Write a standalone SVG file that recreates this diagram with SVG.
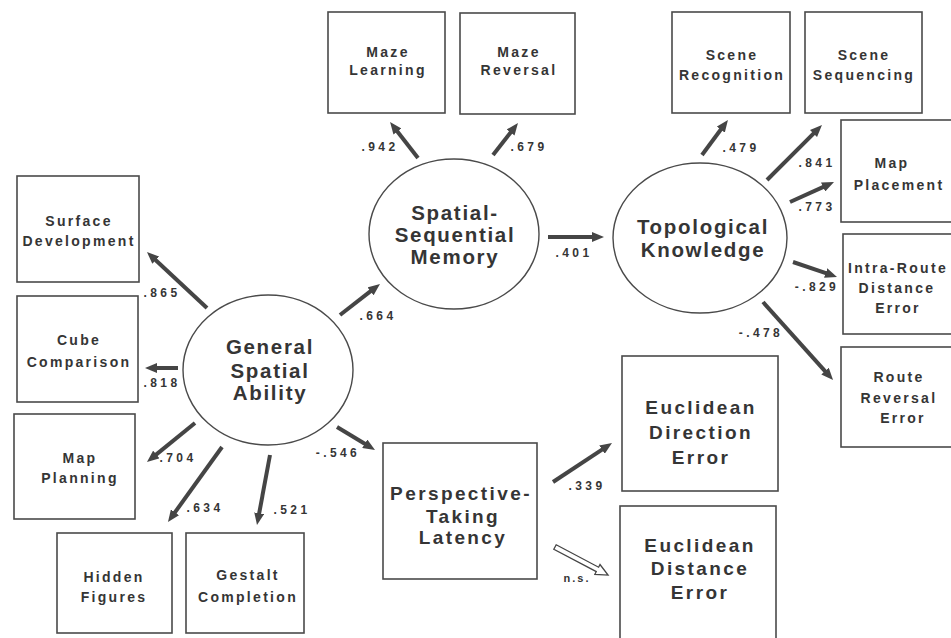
<svg xmlns="http://www.w3.org/2000/svg" width="951" height="638" viewBox="0 0 951 638">
<style>
.bg{fill:#ffffff}
.box{fill:#ffffff;stroke:#4a4a4a;stroke-width:1.6}
.lat{fill:#ffffff;stroke:#4a4a4a;stroke-width:1.4}
.t{font-family:"Liberation Sans",Arial,sans-serif;font-weight:bold;fill:#353535;text-anchor:middle}
.s{font-size:14px;letter-spacing:2.3px}
.m{font-size:19px;letter-spacing:2.4px}
.c{font-size:20.5px;letter-spacing:1.7px}
.n{font-size:12px;letter-spacing:3.4px}
.arr{stroke:#454545;stroke-width:4;fill:none;marker-end:url(#ah)}
.hol{fill:#ffffff;stroke:#454545;stroke-width:1.3}
</style>
<defs>
<marker id="ah" viewBox="0 0 12 10" markerWidth="12" markerHeight="10" markerUnits="userSpaceOnUse" refX="1" refY="5" orient="auto">
<path d="M0,0 L12,5 L0,10 z" fill="#454545"/>
</marker>
</defs>
<rect class="bg" x="0" y="0" width="951" height="638"/>

<g id="connectors">
<line class="arr" x1="207" y1="308" x2="155" y2="259.5"/>
<line class="arr" x1="178" y1="368" x2="156" y2="368"/>
<line class="arr" x1="195" y1="423" x2="155.5" y2="455.1"/>
<line class="arr" x1="222" y1="447" x2="174.4" y2="513.1"/>
<line class="arr" x1="270" y1="455" x2="259" y2="514.2"/>
<line class="arr" x1="337" y1="427" x2="365.6" y2="444.3"/>
<line class="arr" x1="340" y1="315" x2="371.3" y2="290.7"/>
<line class="arr" x1="418" y1="158" x2="396.8" y2="130.7"/>
<line class="arr" x1="493" y1="155" x2="511.2" y2="131.7"/>
<line class="arr" x1="548" y1="237" x2="593" y2="237"/>
<line class="arr" x1="702" y1="155" x2="721.4" y2="128.8"/>
<line class="arr" x1="767" y1="180" x2="814.2" y2="132.8"/>
<line class="arr" x1="790" y1="202" x2="824" y2="186.6"/>
<line class="arr" x1="793" y1="262" x2="826.6" y2="273.4"/>
<line class="arr" x1="763" y1="302" x2="825.7" y2="371.8"/>
<line class="arr" x1="553" y1="482" x2="602.8" y2="449.1"/>
<polygon class="hol" transform="translate(555,547) rotate(27.85)" points="0,-2.5 48,-2.5 48,-5.5 60,0 48,5.5 48,2.5 0,2.5"/>
<text class="t n" x="162" y="297">.865</text>
<text class="t n" x="162" y="387">.818</text>
<text class="t n" x="178" y="462">.704</text>
<text class="t n" x="205" y="512">.634</text>
<text class="t n" x="292" y="514">.521</text>
<text class="t n" x="338" y="457">-.546</text>
<text class="t n" x="378" y="320">.664</text>
<text class="t n" x="380" y="151">.942</text>
<text class="t n" x="529" y="151">.679</text>
<text class="t n" x="574" y="257">.401</text>
<text class="t n" x="741" y="152">.479</text>
<text class="t n" x="817" y="167">.841</text>
<text class="t n" x="817" y="211">.773</text>
<text class="t n" x="817" y="291">-.829</text>
<text class="t n" x="761" y="337">-.478</text>
<text class="t n" x="587" y="490">.339</text>
<text class="t n" x="577" y="582" style="font-size:11px;letter-spacing:2px">n.s.</text>
</g>

<g id="general-spatial-ability">
<ellipse class="lat" cx="268" cy="370" rx="85" ry="75"/>
<text class="t c" x="270" y="354">General</text>
<text class="t c" x="270" y="378">Spatial</text>
<text class="t c" x="270" y="400">Ability</text>
</g>
<g id="spatial-sequential-memory">
<ellipse class="lat" cx="454" cy="234" rx="85" ry="75"/>
<text class="t c" x="455" y="220">Spatial-</text>
<text class="t c" x="455" y="242">Sequential</text>
<text class="t c" x="455" y="264">Memory</text>
</g>
<g id="topological-knowledge">
<ellipse class="lat" cx="700" cy="238" rx="87" ry="75"/>
<text class="t c" x="703" y="234">Topological</text>
<text class="t c" x="703" y="257">Knowledge</text>
</g>

<g id="surface-development">
<rect class="box" x="17" y="176" width="122" height="106"/>
<text class="t s" x="79" y="226">Surface</text>
<text class="t s" x="79" y="246">Development</text>
</g>
<g id="cube-comparison">
<rect class="box" x="17" y="296" width="121" height="106"/>
<text class="t s" x="79" y="345">Cube</text>
<text class="t s" x="79" y="367">Comparison</text>
</g>
<g id="map-planning">
<rect class="box" x="14" y="414" width="121" height="105"/>
<text class="t s" x="80" y="463">Map</text>
<text class="t s" x="80" y="483">Planning</text>
</g>
<g id="hidden-figures">
<rect class="box" x="57" y="533" width="115" height="100"/>
<text class="t s" x="114" y="582">Hidden</text>
<text class="t s" x="114" y="602">Figures</text>
</g>
<g id="gestalt-completion">
<rect class="box" x="186" y="533" width="118" height="100"/>
<text class="t s" x="248" y="580">Gestalt</text>
<text class="t s" x="248" y="602">Completion</text>
</g>
<g id="maze-learning">
<rect class="box" x="328" y="12" width="117" height="101"/>
<text class="t s" x="388" y="57">Maze</text>
<text class="t s" x="388" y="75">Learning</text>
</g>
<g id="maze-reversal">
<rect class="box" x="460" y="13" width="115" height="101"/>
<text class="t s" x="519" y="57">Maze</text>
<text class="t s" x="519" y="75">Reversal</text>
</g>
<g id="scene-recognition">
<rect class="box" x="672" y="12" width="118" height="101"/>
<text class="t s" x="732" y="60">Scene</text>
<text class="t s" x="732" y="80">Recognition</text>
</g>
<g id="scene-sequencing">
<rect class="box" x="805" y="12" width="117" height="101"/>
<text class="t s" x="864" y="60">Scene</text>
<text class="t s" x="864" y="80">Sequencing</text>
</g>
<g id="map-placement">
<rect class="box" x="841" y="120" width="115" height="102"/>
<text class="t s" x="892" y="168">Map</text>
<text class="t s" x="899" y="190">Placement</text>
</g>
<g id="intra-route-distance-error">
<rect class="box" x="843" y="234" width="113" height="100"/>
<text class="t s" x="898" y="273">Intra-Route</text>
<text class="t s" x="897" y="293">Distance</text>
<text class="t s" x="898" y="313">Error</text>
</g>
<g id="route-reversal-error">
<rect class="box" x="841" y="347" width="115" height="100"/>
<text class="t s" x="899" y="382">Route</text>
<text class="t s" x="899" y="403">Reversal</text>
<text class="t s" x="903" y="423">Error</text>
</g>
<g id="perspective-taking-latency">
<rect class="box" x="383" y="443" width="154" height="136"/>
<text class="t m" x="461" y="500">Perspective-</text>
<text class="t m" x="463" y="523">Taking</text>
<text class="t m" x="463" y="544">Latency</text>
</g>
<g id="euclidean-direction-error">
<rect class="box" x="622" y="356" width="156" height="135"/>
<text class="t m" x="701" y="414">Euclidean</text>
<text class="t m" x="701" y="439">Direction</text>
<text class="t m" x="701" y="464">Error</text>
</g>
<g id="euclidean-distance-error">
<rect class="box" x="620" y="506" width="156" height="134"/>
<text class="t m" x="700" y="552">Euclidean</text>
<text class="t m" x="700" y="575">Distance</text>
<text class="t m" x="700" y="599">Error</text>
</g>
</svg>
